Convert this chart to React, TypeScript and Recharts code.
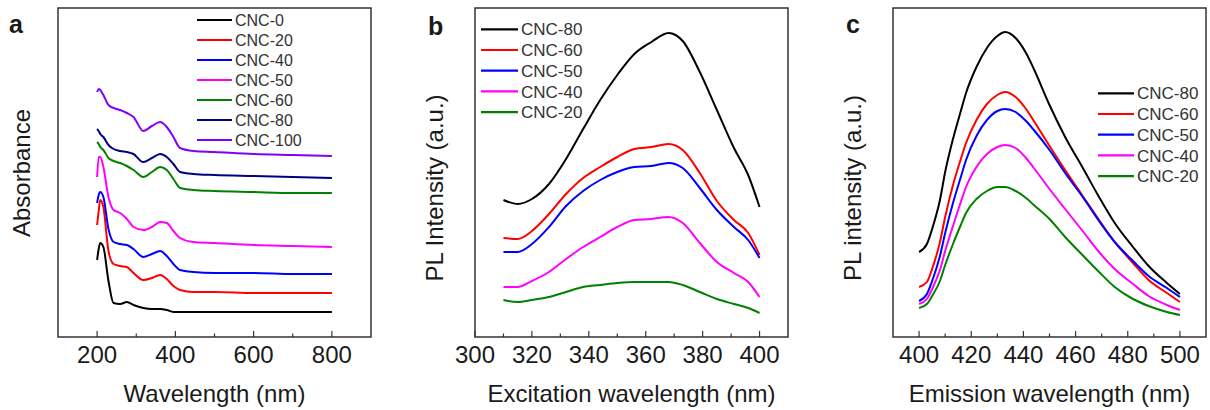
import React from "react";
import { LineChart, Line, XAxis, YAxis, ReferenceArea } from "recharts";

const FONT = '"Liberation Sans", Arial, sans-serif';

// panel a: absorbance spectra (offset, arbitrary units)
const absWavelength = [200, 204, 208, 216, 229, 242, 259, 276, 293, 318, 340, 361, 378, 395, 412, 446, 500, 600, 700, 800];
const absCNC0 = [0.77, 0.88, 0.94, 0.9, 0.56, 0.34, 0.33, 0.35, 0.32, 0.29, 0.28, 0.28, 0.27, 0.25, 0.25, 0.25, 0.25, 0.25, 0.25, 0.25];
const absCNC20 = [1.12, 1.26, 1.37, 1.3, 0.86, 0.73, 0.71, 0.7, 0.64, 0.57, 0.59, 0.62, 0.58, 0.51, 0.47, 0.45, 0.45, 0.44, 0.44, 0.44];
const absCNC40 = [1.34, 1.42, 1.45, 1.4, 1.08, 0.95, 0.93, 0.92, 0.88, 0.8, 0.83, 0.86, 0.81, 0.73, 0.67, 0.65, 0.64, 0.64, 0.63, 0.63];
const absCNC50 = [1.6, 1.8, 1.8, 1.7, 1.4, 1.27, 1.24, 1.18, 1.1, 1.07, 1.1, 1.15, 1.14, 1.06, 0.99, 0.95, 0.94, 0.92, 0.91, 0.9];
const absCNC60 = [1.95, 1.93, 1.9, 1.87, 1.79, 1.76, 1.74, 1.71, 1.67, 1.6, 1.65, 1.7, 1.67, 1.58, 1.49, 1.47, 1.46, 1.45, 1.44, 1.44];
const absCNC80 = [2.08, 2.06, 2.03, 2.0, 1.92, 1.88, 1.86, 1.85, 1.83, 1.75, 1.79, 1.83, 1.8, 1.73, 1.65, 1.63, 1.62, 1.61, 1.6, 1.59];
const absCNC100 = [2.45, 2.48, 2.47, 2.42, 2.32, 2.29, 2.27, 2.24, 2.2, 2.06, 2.11, 2.15, 2.1, 2.0, 1.89, 1.86, 1.85, 1.83, 1.82, 1.81];

// panel b: PL excitation
const excWavelength = [310, 315, 320, 326, 332, 338, 344, 350, 356, 362, 368, 373, 379, 385, 391, 396, 400];
const exc80 = [137, 133, 138, 153, 178, 208, 237, 262, 283, 295, 304, 296, 265, 227, 189, 162, 130];
const exc60 = [99, 98, 106, 123, 143, 159, 170, 180, 188, 190, 193, 187, 164, 136, 117, 104, 82];
const exc50 = [85, 85, 93, 110, 131, 146, 157, 165, 170, 171, 174, 169, 149, 127, 110, 97, 79];
const exc40 = [50, 50, 56, 65, 78, 90, 100, 110, 117, 118, 120, 114, 94, 75, 64, 55, 40];
const exc20 = [37, 35, 37, 40, 45, 50, 52, 54, 55, 55, 55, 52, 45, 38, 33, 29, 24];

// panel c: PL emission
const emWavelength = [400, 403, 405, 408, 410, 413, 416, 418, 422, 426, 430, 433, 437, 441, 444, 450, 456, 463, 469, 475, 482, 488, 495, 500];
const em80 = [85, 93, 108, 137, 165, 198, 226, 244, 270, 289, 301, 305, 299, 284, 268, 232, 200, 168, 140, 114, 90, 71, 54, 43];
const em60 = [50, 55, 68, 95, 120, 152, 178, 194, 217, 233, 242, 245, 240, 228, 216, 191, 167, 140, 117, 95, 74, 57, 44, 35];
const em50 = [36, 43, 56, 81, 104, 134, 160, 177, 201, 217, 226, 228, 225, 216, 207, 187, 164, 139, 116, 95, 76, 61, 49, 40];
const em40 = [33, 38, 48, 67, 86, 111, 135, 150, 170, 183, 190, 192, 189, 179, 169, 148, 128, 105, 85, 68, 53, 41, 32, 27];
const em20 = [29, 33, 41, 56, 72, 93, 112, 124, 138, 146, 150, 150, 146, 139, 132, 118, 100, 81, 65, 50, 38, 31, 25, 22];

const absTicks = [200, 300, 400, 500, 600, 700, 800];
const absMajor = [200, 400, 600, 800];
const excTicks = [300, 310, 320, 330, 340, 350, 360, 370, 380, 390, 400];
const excMajor = [300, 320, 340, 360, 380, 400];
const emTicks = [400, 410, 420, 430, 440, 450, 460, 470, 480, 490, 500];
const emMajor = [400, 420, 440, 460, 480, 500];

type Series = { name: string; color: string; values: number[] };

const absSeries: Series[] = [
  { name: "CNC-0", color: "#000000", values: absCNC0 },
  { name: "CNC-20", color: "#ff0000", values: absCNC20 },
  { name: "CNC-40", color: "#0000ff", values: absCNC40 },
  { name: "CNC-50", color: "#ff00ff", values: absCNC50 },
  { name: "CNC-60", color: "#008000", values: absCNC60 },
  { name: "CNC-80", color: "#000080", values: absCNC80 },
  { name: "CNC-100", color: "#8000ff", values: absCNC100 },
];

const excSeries: Series[] = [
  { name: "CNC-80", color: "#000000", values: exc80 },
  { name: "CNC-60", color: "#ff0000", values: exc60 },
  { name: "CNC-50", color: "#0000ff", values: exc50 },
  { name: "CNC-40", color: "#ff00ff", values: exc40 },
  { name: "CNC-20", color: "#008000", values: exc20 },
];

const emSeries: Series[] = [
  { name: "CNC-80", color: "#000000", values: em80 },
  { name: "CNC-60", color: "#ff0000", values: em60 },
  { name: "CNC-50", color: "#0000ff", values: em50 },
  { name: "CNC-40", color: "#ff00ff", values: em40 },
  { name: "CNC-20", color: "#008000", values: em20 },
];

function AxisTick(props: any) {
  const { x, y, payload, major } = props;
  const isMajor = major.includes(payload.value);
  return (
    <g>
      <line x1={x} x2={x} y1={y} y2={y - (isMajor ? 6 : 3.5)} stroke="#333" strokeWidth={1.2} />
      {isMajor && (
        <text x={x} y={y + 26} textAnchor="middle" fontSize={24} fill="#1a1a1a" fontFamily={FONT}>
          {payload.value}
        </text>
      )}
    </g>
  );
}

function Panel(props: {
  left: number;
  width: number;
  marginLeft: number;
  marginRight: number;
  xs: number[];
  series: Series[];
  xDomain: [number, number];
  yMax: number;
  ticks: number[];
  major: number[];
  xTitle: string;
}) {
  const { left, width, marginLeft, marginRight, xs, series, xDomain, yMax, ticks, major, xTitle } = props;
  const data = xs.map((x, i) => {
    const row: any = { x };
    series.forEach((s) => (row[s.name] = s.values[i]));
    return row;
  });
  return (
    <div style={{ position: "absolute", left, top: 0 }}>
      <LineChart width={width} height={410} data={data} margin={{ top: 8, right: marginRight, left: marginLeft, bottom: 0 }}>
        <XAxis
          dataKey="x"
          type="number"
          domain={xDomain}
          ticks={ticks}
          interval={0}
          allowDataOverflow
          height={73}
          tickSize={0}
          tickMargin={0}
          axisLine={false}
          tickLine={false}
          tick={<AxisTick major={major} />}
          label={{ value: xTitle, position: "insideBottom", offset: 8, fontSize: 24, fill: "#1a1a1a", fontFamily: FONT }}
        />
        <YAxis hide type="number" domain={[0, yMax]} allowDataOverflow />
        <ReferenceArea x1={xDomain[0]} x2={xDomain[1]} y1={0} y2={yMax} fill="none" stroke="#333" strokeWidth={1.5} />
        {series.map((s) => (
          <Line
            key={s.name}
            dataKey={s.name}
            type="monotone"
            stroke={s.color}
            strokeWidth={2}
            dot={false}
            isAnimationActive={false}
          />
        ))}
      </LineChart>
    </div>
  );
}

function LegendBlock(props: { series: Series[]; x: number; y: number; step: number; len: number; fontSize: number }) {
  const { series, x, y, step, len, fontSize } = props;
  return (
    <g>
      {series.map((s, i) => (
        <g key={s.name}>
          <line x1={x} x2={x + len} y1={y + i * step} y2={y + i * step} stroke={s.color} strokeWidth={2.2} />
          <text x={x + len + 3} y={y + i * step + fontSize * 0.36} fontSize={fontSize} fill="#333" fontFamily={FONT}>
            {s.name}
          </text>
        </g>
      ))}
    </g>
  );
}

export default function App() {
  return (
    <div style={{ position: "absolute", left: 0, top: 0, width: 1210, height: 410, background: "#fff", overflow: "hidden" }}>
      <Panel left={0} width={400} marginLeft={58} marginRight={29} xs={absWavelength} series={absSeries} xDomain={[100, 900]} yMax={3.29} ticks={absTicks} major={absMajor} xTitle="Wavelength (nm)" />
      <Panel left={400} width={410} marginLeft={75} marginRight={22} xs={excWavelength} series={excSeries} xDomain={[300, 410]} yMax={329} ticks={excTicks} major={excMajor} xTitle="Excitation wavelength (nm)" />
      <Panel left={800} width={410} marginLeft={93} marginRight={4} xs={emWavelength} series={emSeries} xDomain={[390, 510]} yMax={329} ticks={emTicks} major={emMajor} xTitle="Emission wavelength (nm)" />
      <svg width={1210} height={410} style={{ position: "absolute", left: 0, top: 0, pointerEvents: "none" }}>
        <g fontFamily={FONT} fill="#1a1a1a">
          <text x={9} y={33} fontSize={25} fontWeight="bold">a</text>
          <text x={428} y={35} fontSize={25} fontWeight="bold">b</text>
          <text x={846} y={33} fontSize={25} fontWeight="bold">c</text>
          <text transform="translate(30,173) rotate(-90)" textAnchor="middle" fontSize={24}>Absorbance</text>
          <text transform="translate(443,188) rotate(-90)" textAnchor="middle" fontSize={24}>PL Intensity (a.u.)</text>
          <text transform="translate(861,188) rotate(-90)" textAnchor="middle" fontSize={24}>PL intensity (a.u.)</text>
        </g>
        <LegendBlock series={absSeries} x={197} y={20} step={20} len={35} fontSize={16} />
        <LegendBlock series={excSeries} x={481} y={29.3} step={20.7} len={37} fontSize={17} />
        <LegendBlock series={emSeries} x={1098} y={93.3} step={20.7} len={36} fontSize={17} />
      </svg>
    </div>
  );
}
